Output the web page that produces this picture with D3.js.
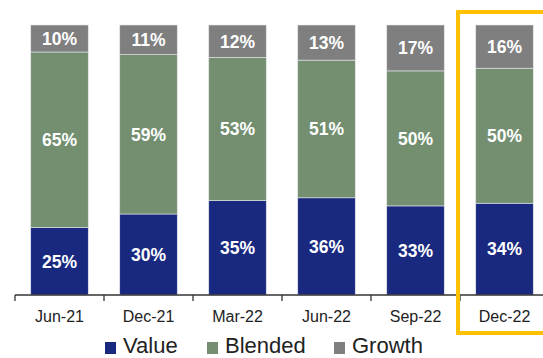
<!DOCTYPE html>
<html><head><meta charset="utf-8">
<script src="https://cdn.jsdelivr.net/npm/d3@7"></script>
<style>body{margin:0;background:#fff}svg{display:block}</style>
</head><body>
<script>
const categories = ["Jun-21","Dec-21","Mar-22","Jun-22","Sep-22","Dec-22"];
const valueSeries = [25,30,35,36,33,34];
const blendedSeries = [65,59,53,51,50,50];
const growthSeries = [10,11,12,13,17,16];
const seriesNames = ["Value","Blended","Growth"];
const colors = ["#18297f","#738f70","#7f7f7f"];

const W=543,H=358;
const svg=d3.select("body").append("svg").attr("width",W).attr("height",H);
const font="'Liberation Sans', Arial, sans-serif";

const x=d3.scaleBand().domain(categories).range([15,15+89*6]).paddingInner(0.354).paddingOuter(0.177);
const y=d3.scaleLinear().domain([0,100]).range([295,25]);

const data=categories.map((c,i)=>({cat:c,Value:valueSeries[i],Blended:blendedSeries[i],Growth:growthSeries[i]}));
const stack=d3.stack().keys(seriesNames)(data);

stack.forEach((layer,li)=>{
  const g=svg.append("g");
  g.selectAll("rect").data(layer).join("rect")
    .attr("x",d=>x(d.data.cat)).attr("width",x.bandwidth())
    .attr("y",d=>y(d[1])).attr("height",d=>y(d[0])-y(d[1]))
    .attr("fill",colors[li]).attr("stroke","#e6e6ea").attr("stroke-width",0.6);
  g.selectAll("text").data(layer).join("text")
    .attr("x",d=>x(d.data.cat)+x.bandwidth()/2)
    .attr("y",d=>(y(d[0])+y(d[1]))/2)
    .attr("dy","0.36em").attr("text-anchor","middle")
    .attr("fill","#fff").attr("font-family",font).attr("font-weight","bold").attr("font-size",17.5)
    .text(d=>(d[1]-d[0])+"%");
});

// axis
const axis=d3.axisBottom(x).tickSize(0).tickPadding(16);
const ag=svg.append("g").attr("transform","translate(0,295)").call(axis);
ag.select(".domain").attr("stroke","#333").attr("stroke-width",1.3).attr("d","M15,0H543");
ag.selectAll("text").attr("font-family",font).attr("font-size",16).attr("fill","#222");
const bounds=d3.range(categories.length+1).map(i=>x.range()[0]+i*x.step());
ag.selectAll(".btick").data(bounds).join("line").attr("class","btick")
  .attr("x1",d=>d).attr("x2",d=>d).attr("y1",0).attr("y2",6).attr("stroke","#333").attr("stroke-width",1.3);

// highlight
svg.append("rect").attr("x",458).attr("y",12).attr("width",100).attr("height",321)
  .attr("fill","none").attr("stroke","#FFC000").attr("stroke-width",4);

// legend
const legX=[105,207,334];
const lg=svg.append("g");
seriesNames.forEach((n,i)=>{
  lg.append("rect").attr("x",legX[i]).attr("y",342).attr("width",11).attr("height",12).attr("fill",colors[i]);
  lg.append("text").attr("x",legX[i]+18).attr("y",353).attr("font-family",font).attr("font-size",22).attr("fill","#222").text(n);
});
</script>
</body></html>
